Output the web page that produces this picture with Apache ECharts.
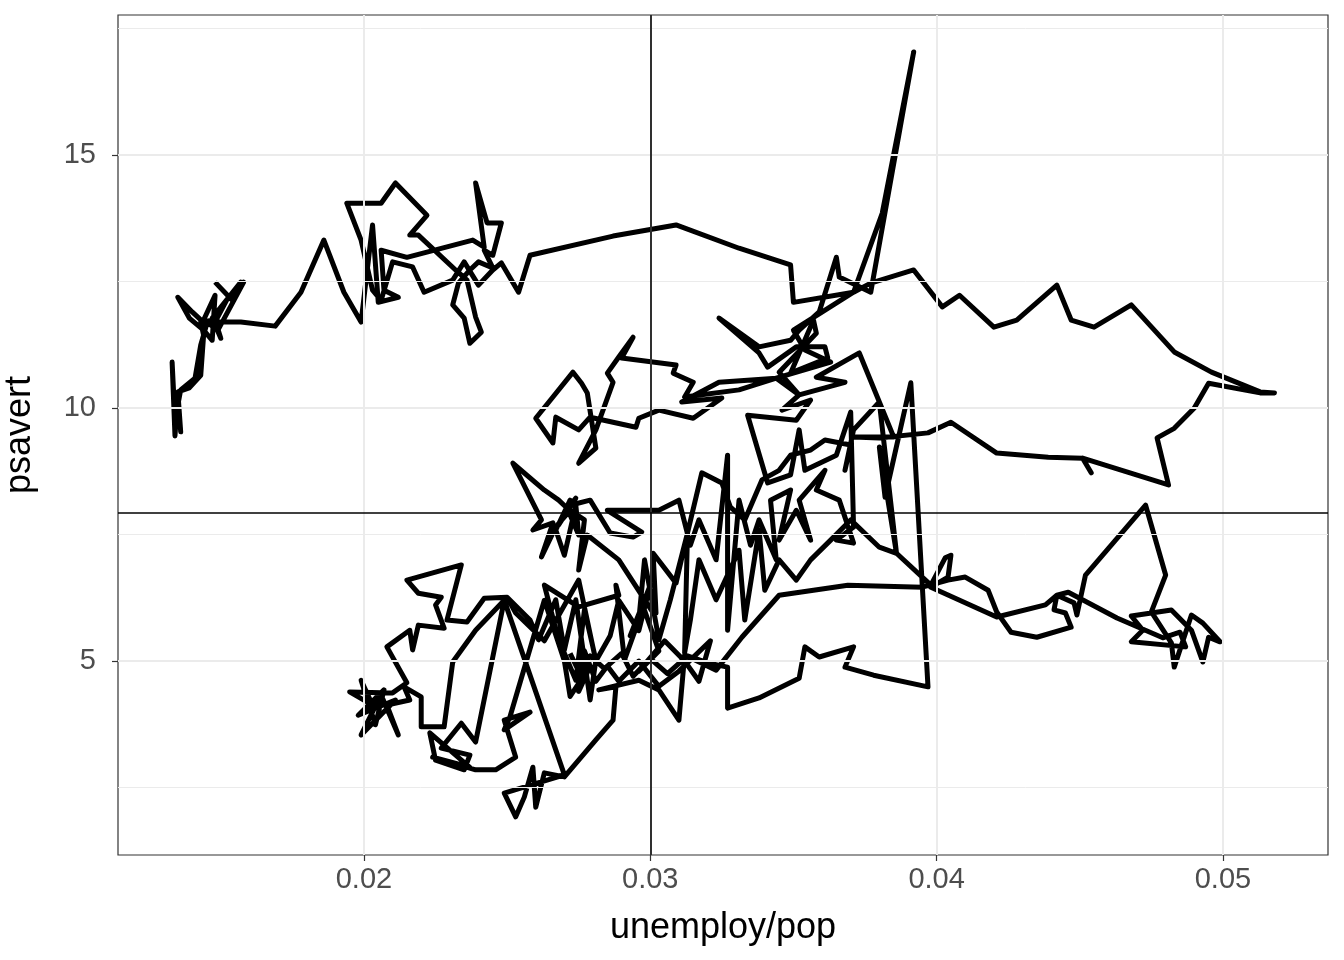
<!DOCTYPE html>
<html><head><meta charset="utf-8">
<script src="https://cdn.jsdelivr.net/npm/echarts@6/dist/echarts.min.js"></script>
<style>html,body{margin:0;padding:0;background:#fff}#chart{width:1344px;height:960px}</style>
</head><body><div id="chart"></div>
<script>
// unemploy/pop (x) and psavert (y), in time order
const ratio = [
0.0148,0.0154,0.0158,0.0149,0.0144,0.0148,0.0147,0.0144,0.0139,0.0135,0.0140,0.0145,0.0143,0.0141,0.0136,0.0134,0.0133,0.0134,0.0135,0.0136,0.0135,0.0139,0.0143,0.0144,0.0143,0.0148,0.0150,0.0147,0.0157,0.0152,0.0148,
0.0157,0.0169,0.0178,0.0186,0.0193,0.0199,0.0203,0.0205,0.0212,0.0207,0.0206,0.0215,
0.0238,0.0242,0.0239,0.0243,0.0248,0.0245,0.0242,0.0245,0.0240,
0.0237,0.0233,0.0231,0.0235,0.0237,0.0241,0.0239,0.0236,0.0232,0.0219,0.0216,
0.0222,0.0211,0.0206,0.0194,0.0199,0.0203,0.0206,0.0210,0.0217,0.0221,0.0231,
0.0235,0.0240,0.0245,0.0248,0.0254,0.0258,0.0287,0.0309,0.0331,0.0349,0.0350,
0.0371,0.0381,0.0392,0.0377,0.0366,0.0365,0.0359,0.0352,0.0349,
0.0338,0.0324,0.0338,0.0341,0.0351,0.0361,0.0362,0.0349,0.0357,0.0358,0.0345,0.0352,0.0344,0.0324,
0.0311,0.0325,0.0315,0.0303,0.0296,0.0295,0.0279,0.0275,0.0267,0.0266,0.0260,0.0266,0.0273,0.0276,0.0278,0.0281,0.0275,0.0281,0.0287,0.0285,0.0289,0.0294,
0.0290,0.0309,0.0308,0.0315,0.0312,0.0331,0.0344,0.0363,0.0354,
0.0350,0.0371,0.0377,0.0392,0.0402,0.0408,0.0420,0.0428,0.0442,0.0447,0.0455,0.0468,0.0483,0.0496,0.0513,0.0518,
0.0513,0.0495,0.0490,0.0483,0.0477,0.0481,0.0451,0.0454,0.0451,0.0439,0.0421,0.0405,0.0397,0.0380,0.0371,0.0385,
0.0373,0.0358,0.0368,0.0352,0.0346,0.0356,0.0351,0.0334,0.0341,0.0349,0.0352,0.0354,0.0365,0.0370,0.0371,0.0365,0.0371,0.0366,0.0358,0.0361,0.0352,0.0356,0.0351,0.0345,0.0349,0.0342,0.0344,0.0338,
0.0335,0.0331,0.0327,0.0327,0.0323,0.0317,0.0314,0.0310,0.0303,
0.0296,0.0285,0.0297,0.0294,0.0286,0.0279,0.0272,0.0274,0.0268,0.0272,0.0267,0.0270,0.0274,0.0275,0.0271,0.0268,0.0263,0.0252,0.0262,0.0259,0.0266,0.0262,0.0267,0.0272,0.0277,0.0275,
0.0278,0.0289,0.0301,0.0302,0.0301,0.0309,0.0313,0.0318,0.0325,0.0328,0.0333,0.0339,0.0345,0.0349,0.0356,0.0361,0.0370,0.0368,0.0371,0.0380,0.0386,0.0380,
0.0370,0.0363,0.0356,0.0351,0.0345,0.0340,0.0338,0.0333,0.0331,0.0323,0.0317,0.0314,0.0312,0.0313,0.0307,0.0303,0.0298,0.0296,0.0291,0.0288,0.0289,0.0275,0.0263,0.0268,0.0274,0.0277,0.0281,0.0279,0.0274,0.0270,0.0267,0.0261,0.0258,0.0250,0.0242,
0.0236,0.0229,0.0234,0.0215,0.0219,0.0227,0.0225,0.0228,0.0219,0.0217,0.0216,0.0208,0.0215,0.0210,
0.0195,0.0203,0.0199,0.0204,0.0207,0.0198,0.0211,0.0199,0.0206,0.0212,0.0208,0.0216,0.0214,
0.0220,0.0220,0.0228,0.0231,0.0239,0.0250,0.0253,0.0263,0.0275,0.0281,0.0286,0.0289,0.0296,0.0300,0.0293,0.0298,0.0303,0.0296,0.0305,0.0312,0.0317,0.0321,0.0310,0.0303,0.0296,0.0289,0.0285,0.0281,0.0277,0.0275,0.0279,0.0272,0.0270,0.0263,0.0251,0.0249,
0.0258,0.0249,0.0253,0.0246,0.0239,0.0224,0.0237,0.0223,0.0225,0.0235,0.0237,0.0227,0.0234,0.0239,0.0249,0.0270,
0.0249,0.0253,0.0256,0.0259,0.0260,0.0263,0.0270,
0.0281,0.0287,0.0288,0.0282,0.0296,0.0303,0.0310,0.0312,0.0323,0.0332,0.0345,0.0369,0.0395,
0.0404,0.0410,0.0418,0.0421,0.0426,0.0435,0.0447,0.0445,0.0441,0.0442,0.0448,0.0449,0.0452,0.0473,0.0480,0.0475,0.0482,0.0483,0.0489,0.0493,0.0499,
0.0495,0.0493,0.0489,0.0482,0.0468,0.0472,0.0468,0.0487,0.0485,
0.0479,0.0463,0.0446,0.0442,0.0438,0.0421,0.0398,0.0404,0.0405,0.0403,0.0398,0.0386,0.0380,0.0382,0.0391,0.0397,
0.0378,0.0368,0.0371,0.0359,0.0354,0.0352,0.0338,0.0327,0.0327,0.0321,0.0313,0.0306,0.0300,0.0294,0.0290,0.0284,0.0279,0.0275,0.0272
];
const psavert = [
12.49,12.13,12.49,11.54,11.74,12.23,11.34,11.54,11.78,12.19,11.90,11.64,11.25,10.59,10.36,9.76,10.91,9.45,10.26,9.53,10.32,10.40,10.65,11.44,11.70,11.74,11.38,11.78,12.49,12.13,11.70,
11.70,11.62,12.29,13.32,12.29,11.70,13.62,12.09,12.19,12.33,13.12,12.98,
13.32,13.18,14.45,13.66,13.66,13.02,13.12,12.77,12.89,
12.73,12.47,12.04,11.78,11.28,11.50,11.80,12.53,12.73,13.42,13.42,
13.81,14.45,14.05,14.05,13.32,12.33,12.13,12.89,12.79,12.29,12.53,
12.89,12.43,12.73,12.87,12.29,13.02,13.40,13.62,13.16,12.83,12.09,
12.29,13.85,17.04,12.29,12.59,12.98,11.90,11.54,11.34,
11.21,11.78,11.09,10.81,11.21,11.21,10.99,10.69,11.74,11.48,10.71,10.26,10.59,10.51,
10.12,10.20,9.80,9.96,9.80,9.62,9.82,9.57,9.82,9.31,9.80,10.22,10.71,10.49,10.30,9.21,8.91,9.57,10.51,10.69,11.01,11.40,
10.99,10.85,10.69,10.51,10.22,10.36,10.59,10.91,11.15,
11.54,12.29,12.47,12.73,12.00,12.23,11.60,11.74,12.43,11.74,11.60,12.04,11.11,10.71,10.32,10.30,
10.30,10.49,10.00,9.60,9.41,8.48,9.01,8.72,9.01,9.03,9.11,9.72,9.51,9.41,9.43,9.43,
11.09,10.61,10.51,10.26,9.96,10.16,9.76,9.86,8.52,8.68,9.57,8.77,9.07,9.92,7.65,7.39,7.33,8.18,8.38,8.77,8.18,7.39,7.98,7.39,8.38,8.18,7.00,7.79,
7.29,8.18,5.61,9.07,7.00,7.79,7.29,8.18,7.98,
7.98,7.98,7.55,7.45,7.53,8.18,8.08,8.22,7.69,8.18,7.59,7.09,8.08,7.49,8.02,8.18,8.38,8.91,7.79,7.59,7.73,7.06,7.65,7.98,7.79,6.80,
7.49,7.00,5.95,5.95,7.13,6.54,7.53,8.72,8.52,8.04,7.79,8.58,8.77,9.07,9.17,9.37,9.27,8.77,9.57,10.12,7.13,7.25,
7.79,7.39,7.00,6.60,7.00,6.40,7.59,5.81,7.19,6.21,7.00,5.81,5.16,7.53,6.21,5.42,7.00,5.81,5.02,6.50,6.30,6.07,6.50,5.42,4.62,6.01,5.02,4.23,6.21,5.22,6.21,5.42,5.81,6.26,6.24,
5.77,5.81,6.90,6.60,6.34,6.26,6.11,5.65,5.71,5.22,5.61,5.28,4.57,4.37,
4.39,4.13,4.62,3.74,4.43,3.93,4.23,3.54,4.33,3.54,4.13,4.23,4.49,
4.29,3.70,3.70,4.98,5.61,6.26,5.95,5.40,6.60,5.00,5.50,6.20,5.60,6.50,5.50,6.00,5.20,4.80,5.40,5.00,4.60,5.40,4.80,4.50,5.00,4.60,4.90,4.60,5.20,4.40,4.90,4.30,5.00,6.20,3.90,3.64,
3.99,3.83,3.10,2.85,2.85,3.10,2.90,3.58,3.04,2.85,3.14,3.28,3.77,3.40,6.20,2.75,
2.39,1.92,2.31,2.90,2.11,2.79,2.71,
3.44,3.83,4.49,4.43,4.62,4.43,3.83,5.12,4.82,5.47,6.30,6.50,6.46,
6.60,6.66,6.40,5.97,5.57,5.47,5.67,5.95,6.01,6.30,6.15,5.91,6.70,8.08,6.70,5.97,5.36,4.88,5.91,5.75,5.38,
5.47,4.98,5.61,6.01,5.89,5.61,5.38,5.28,5.57,
5.46,5.85,6.36,6.30,6.11,5.87,6.46,6.66,7.09,7.04,6.50,7.13,9.23,8.24,10.50,4.49,
4.72,4.88,5.28,5.08,5.28,4.66,4.27,4.07,4.88,4.95,5.10,4.75,5.05,4.70,5.15,4.85,5.10,4.80,5.15
];
const xMajor = [0.02, 0.03, 0.04, 0.05];
const xMinor = [0.015, 0.025, 0.035, 0.045];
const yMajor = [5, 10, 15];
const yMinor = [2.5, 7.5, 12.5, 17.5];
const xMean = 0.02999;
const yMean = 7.94;
const xRange = [0.01141, 0.05367];
const yRange = [1.166, 17.77];

const pathData = ratio.map((x, i) => [x, psavert[i]]);
const chart = echarts.init(document.getElementById('chart'), null, {renderer: 'canvas'});
const gridLine = (vals, key, w) => ({
  type: 'line', data: [], silent: true, z: 1,
  markLine: {
    silent: true, symbol: ['none', 'none'], label: {show: false}, animation: false,
    lineStyle: {color: '#EBEBEB', width: w, type: 'solid'},
    emphasis: {disabled: true},
    data: vals.map(v => ({[key]: v}))
  }
});
const FONT = 'Liberation Sans, Arial, sans-serif';
chart.setOption({
  animation: false,
  backgroundColor: '#ffffff',
  grid: {left: 118, right: 16, top: 15, bottom: 105, containLabel: false, outerBoundsMode: 'none',
         show: true, borderColor: '#333333', borderWidth: 1.2, backgroundColor: '#ffffff'},
  xAxis: {
    type: 'value', min: xRange[0], max: xRange[1],
    splitLine: {show: false}, axisLine: {show: false},
    axisTick: {show: true, customValues: xMajor, length: 6, lineStyle: {color: '#333333', width: 1.2}},
    axisLabel: {customValues: xMajor, formatter: v => v.toFixed(2), color: '#4D4D4D', fontSize: 29, margin: 10, fontFamily: FONT},
    name: 'unemploy/pop', nameLocation: 'middle', nameGap: 55,
    nameTextStyle: {color: '#000000', fontSize: 36, fontFamily: FONT}
  },
  yAxis: {
    type: 'value', min: yRange[0], max: yRange[1],
    splitLine: {show: false}, axisLine: {show: false},
    axisTick: {show: true, customValues: yMajor, length: 6, lineStyle: {color: '#333333', width: 1.2}},
    axisLabel: {customValues: yMajor, formatter: v => String(v), color: '#4D4D4D', fontSize: 29, margin: 22, fontFamily: FONT},
    name: 'psavert', nameLocation: 'middle', nameGap: 80, nameRotate: 90,
    nameTextStyle: {color: '#000000', fontSize: 36, fontFamily: FONT}
  },
  series: [
    gridLine(xMinor, 'xAxis', 1),
    gridLine(yMinor, 'yAxis', 1),
    gridLine(xMajor, 'xAxis', 2),
    gridLine(yMajor, 'yAxis', 2),
    {
      type: 'line', data: pathData, showSymbol: false, symbol: 'none', z: 3,
      lineStyle: {color: '#000000', width: 5, cap: 'butt', join: 'round'},
      silent: true
    },
    {
      type: 'line', data: [], silent: true, z: 4,
      markLine: {
        silent: true, symbol: ['none', 'none'], label: {show: false}, animation: false,
        lineStyle: {color: '#000000', width: 1.6, type: 'solid'},
        data: [{xAxis: xMean}, {yAxis: yMean}]
      }
    }
  ]
});
</script></body></html>
